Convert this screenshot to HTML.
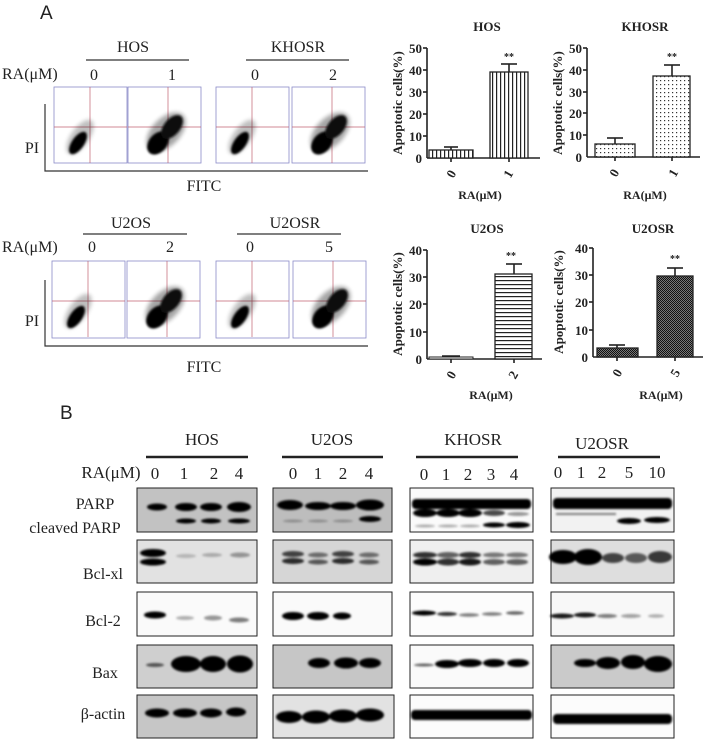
<!DOCTYPE html>
<html><head><meta charset="utf-8"><style>
body{margin:0;background:#fff}
svg{display:block}
.s{font-family:"Liberation Serif",serif;fill:#222}
.b{font-family:"Liberation Serif",serif;font-weight:bold;fill:#222}
.a{font-family:"Liberation Sans",sans-serif;fill:#222}
</style></head><body>
<svg width="703" height="743" viewBox="0 0 703 743" xmlns="http://www.w3.org/2000/svg">
<defs>
<filter id="bl" x="-30%" y="-60%" width="160%" height="220%"><feGaussianBlur stdDeviation="1.1"/></filter>
<filter id="bl2" x="-30%" y="-30%" width="160%" height="160%"><feGaussianBlur stdDeviation="2"/></filter>
<pattern id="pv" width="4" height="4" patternUnits="userSpaceOnUse"><rect width="4" height="4" fill="#fff"/><rect width="1.2" height="4" fill="#222"/></pattern>
<pattern id="ph" width="4" height="4" patternUnits="userSpaceOnUse"><rect width="4" height="4" fill="#fff"/><rect width="4" height="1.2" fill="#222"/></pattern>
<pattern id="pd" width="4" height="4" patternUnits="userSpaceOnUse"><rect width="4" height="4" fill="#fff"/><rect width="1.2" height="1.2" fill="#333"/></pattern>
<pattern id="pc" width="2" height="2" patternUnits="userSpaceOnUse"><rect width="2" height="2" fill="#777"/><rect width="1" height="1" fill="#111"/><rect x="1" y="1" width="1" height="1" fill="#111"/></pattern>
<g id="ctl">
<g stroke="#c06070" stroke-width="0.7"><line x1="36" y1="0" x2="36" y2="76"/><line x1="0" y1="40" x2="73" y2="40"/></g>
<ellipse cx="24" cy="56" rx="6" ry="13" transform="rotate(35 24 56)" fill="#000" filter="url(#bl)"/>
<ellipse cx="26" cy="50" rx="9" ry="20" transform="rotate(35 26 50)" fill="#000" opacity="0.25" filter="url(#bl2)"/>
</g>
<g id="trt">
<g stroke="#c06070" stroke-width="0.7"><line x1="40" y1="0" x2="40" y2="76"/><line x1="0" y1="40" x2="73" y2="40"/></g>
<ellipse cx="38" cy="45" rx="14" ry="24" transform="rotate(45 38 45)" fill="#000" opacity="0.35" filter="url(#bl2)"/>
<ellipse cx="30" cy="56" rx="9" ry="13" transform="rotate(40 30 56)" fill="#000" filter="url(#bl)"/>
<ellipse cx="44" cy="40" rx="8" ry="14" transform="rotate(40 44 40)" fill="#111" filter="url(#bl)"/>
</g>
</defs>
<rect width="703" height="743" fill="#fff"/>

<text x="40" y="19" class="a" font-size="19">A</text>
<g class="s" font-size="16" text-anchor="middle">
<text x="133" y="52">HOS</text><text x="298" y="52">KHOSR</text>
<text x="94" y="80">0</text><text x="172" y="80">1</text><text x="255" y="80">0</text><text x="333" y="80">2</text>
<text x="131" y="228">U2OS</text><text x="295" y="228">U2OSR</text>
<text x="92" y="252">0</text><text x="170" y="252">2</text><text x="250" y="252">0</text><text x="329" y="252">5</text>
<text x="204" y="191">FITC</text><text x="204" y="372">FITC</text>
<text x="32" y="153">PI</text><text x="32" y="326">PI</text>
</g>
<g class="s" font-size="16"><text x="2" y="79">RA(μM)</text><text x="2" y="252">RA(μM)</text></g>
<g stroke="#333" stroke-width="1.2">
<line x1="86" y1="60" x2="189" y2="60"/><line x1="246" y1="60" x2="349" y2="60"/>
<line x1="83" y1="234" x2="187" y2="234"/><line x1="237" y1="234" x2="341" y2="234"/>
<polyline points="45,104 45,171 368,171" fill="none"/>
<polyline points="45,280 45,346 368,346" fill="none"/>
</g>
<g fill="#fff" stroke="#8a8ac8" stroke-width="0.8">
<rect x="54" y="87" width="73" height="76"/><rect x="128" y="87" width="73" height="76"/>
<rect x="216" y="87" width="73" height="76"/><rect x="292" y="87" width="73" height="76"/>
<rect x="52" y="261" width="73" height="77"/><rect x="127" y="261" width="73" height="77"/>
<rect x="216" y="261" width="73" height="77"/><rect x="293" y="261" width="73" height="77"/>
</g>
<use href="#ctl" x="54" y="87"/><use href="#trt" x="128" y="87"/>
<use href="#ctl" x="216" y="87"/><use href="#trt" x="292" y="87"/>
<use href="#ctl" x="52" y="261"/><use href="#trt" x="127" y="261"/>
<use href="#ctl" x="216" y="261"/><use href="#trt" x="293" y="261"/>

<g class="b" font-size="13" text-anchor="middle">
<text x="487" y="31">HOS</text><text x="645" y="31">KHOSR</text>
<text x="487" y="233">U2OS</text><text x="653" y="233">U2OSR</text>
<text x="480" y="199" font-size="12">RA(μM)</text><text x="645" y="199" font-size="12">RA(μM)</text>
<text x="491" y="399" font-size="12">RA(μM)</text><text x="661" y="399" font-size="12">RA(μM)</text>
<text transform="translate(402,103) rotate(-90)">Apoptotic cells(%)</text>
<text transform="translate(562,103) rotate(-90)">Apoptotic cells(%)</text>
<text transform="translate(402,304) rotate(-90)">Apoptotic cells(%)</text>
<text transform="translate(563,302) rotate(-90)">Apoptotic cells(%)</text>
</g>
<!-- HOS -->
<g stroke="#222" stroke-width="1.6" fill="none">
<line x1="427" y1="48" x2="427" y2="158"/><line x1="427" y1="158" x2="540" y2="158"/>
<line x1="423" y1="48" x2="427" y2="48"/><line x1="423" y1="70" x2="427" y2="70"/><line x1="423" y1="92" x2="427" y2="92"/><line x1="423" y1="114" x2="427" y2="114"/><line x1="423" y1="136" x2="427" y2="136"/>
<line x1="451" y1="158" x2="451" y2="162"/><line x1="509" y1="158" x2="509" y2="162"/>
<line x1="451" y1="150" x2="451" y2="147"/><line x1="444" y1="147" x2="458" y2="147"/>
<line x1="509" y1="72" x2="509" y2="64"/><line x1="501" y1="64" x2="517" y2="64"/>
</g>
<rect x="429" y="150" width="44" height="8" fill="url(#pv)" stroke="#222" stroke-width="1.3"/>
<rect x="490" y="72" width="38" height="86" fill="url(#pv)" stroke="#222" stroke-width="1.3"/>
<g class="b" font-size="13" text-anchor="end"><text x="422" y="53">50</text><text x="422" y="75">40</text><text x="422" y="97">30</text><text x="422" y="119">20</text><text x="422" y="141">10</text><text x="422" y="163">0</text></g>
<text x="509" y="60" class="b" font-size="10" text-anchor="middle">**</text>
<text transform="translate(455,176) rotate(-60)" class="b" font-size="13" text-anchor="middle">0</text>
<text transform="translate(512,176) rotate(-60)" class="b" font-size="13" text-anchor="middle">1</text>
<!-- KHOSR -->
<g stroke="#222" stroke-width="1.6" fill="none">
<line x1="587" y1="48" x2="587" y2="157"/><line x1="587" y1="157" x2="700" y2="157"/>
<line x1="583" y1="48" x2="587" y2="48"/><line x1="583" y1="70" x2="587" y2="70"/><line x1="583" y1="92" x2="587" y2="92"/><line x1="583" y1="113" x2="587" y2="113"/><line x1="583" y1="135" x2="587" y2="135"/>
<line x1="615" y1="157" x2="615" y2="161"/><line x1="672" y1="157" x2="672" y2="161"/>
<line x1="615" y1="144" x2="615" y2="138"/><line x1="607" y1="138" x2="623" y2="138"/>
<line x1="672" y1="76" x2="672" y2="65"/><line x1="664" y1="65" x2="680" y2="65"/>
</g>
<rect x="595" y="144" width="40" height="13" fill="url(#pd)" stroke="#222" stroke-width="1.3"/>
<rect x="653" y="76" width="37" height="81" fill="url(#pd)" stroke="#222" stroke-width="1.3"/>
<g class="b" font-size="13" text-anchor="end"><text x="582" y="53">50</text><text x="582" y="75">40</text><text x="582" y="97">30</text><text x="582" y="118">20</text><text x="582" y="140">10</text><text x="582" y="162">0</text></g>
<text x="672" y="60" class="b" font-size="10" text-anchor="middle">**</text>
<text transform="translate(618,175) rotate(-60)" class="b" font-size="13" text-anchor="middle">0</text>
<text transform="translate(677,175) rotate(-60)" class="b" font-size="13" text-anchor="middle">1</text>
<!-- U2OS -->
<g stroke="#222" stroke-width="1.6" fill="none">
<line x1="427" y1="250" x2="427" y2="359"/><line x1="427" y1="359" x2="542" y2="359"/>
<line x1="423" y1="250" x2="427" y2="250"/><line x1="423" y1="277" x2="427" y2="277"/><line x1="423" y1="304" x2="427" y2="304"/><line x1="423" y1="332" x2="427" y2="332"/>
<line x1="451" y1="359" x2="451" y2="363"/><line x1="514" y1="359" x2="514" y2="363"/>
<line x1="442" y1="356" x2="460" y2="356"/>
<line x1="514" y1="274" x2="514" y2="264"/><line x1="506" y1="264" x2="522" y2="264"/>
</g>
<rect x="429" y="357" width="44" height="2" fill="#fff" stroke="#222"/>
<rect x="495" y="274" width="37" height="85" fill="url(#ph)" stroke="#222" stroke-width="1.3"/>
<g class="b" font-size="13" text-anchor="end"><text x="422" y="255">40</text><text x="422" y="282">30</text><text x="422" y="309">20</text><text x="422" y="337">10</text><text x="422" y="364">0</text></g>
<text x="511" y="259" class="b" font-size="10" text-anchor="middle">**</text>
<text transform="translate(455,377) rotate(-60)" class="b" font-size="13" text-anchor="middle">0</text>
<text transform="translate(517,377) rotate(-60)" class="b" font-size="13" text-anchor="middle">2</text>
<!-- U2OSR -->
<g stroke="#222" stroke-width="1.6" fill="none">
<line x1="593" y1="248" x2="593" y2="357"/><line x1="593" y1="357" x2="703" y2="357"/>
<line x1="589" y1="248" x2="593" y2="248"/><line x1="589" y1="275" x2="593" y2="275"/><line x1="589" y1="302" x2="593" y2="302"/><line x1="589" y1="330" x2="593" y2="330"/>
<line x1="617" y1="357" x2="617" y2="361"/><line x1="675" y1="357" x2="675" y2="361"/>
<line x1="617" y1="348" x2="617" y2="345"/><line x1="609" y1="345" x2="625" y2="345"/>
<line x1="675" y1="276" x2="675" y2="268"/><line x1="667" y1="268" x2="683" y2="268"/>
</g>
<rect x="597" y="348" width="41" height="9" fill="url(#pc)" stroke="#222" stroke-width="1.3"/>
<rect x="657" y="276" width="36" height="81" fill="url(#pc)" stroke="#222" stroke-width="1.3"/>
<g class="b" font-size="13" text-anchor="end"><text x="588" y="253">40</text><text x="588" y="280">30</text><text x="588" y="307">20</text><text x="588" y="335">10</text><text x="588" y="362">0</text></g>
<text x="675" y="262" class="b" font-size="10" text-anchor="middle">**</text>
<text transform="translate(621,375) rotate(-60)" class="b" font-size="13" text-anchor="middle">0</text>
<text transform="translate(679,375) rotate(-60)" class="b" font-size="13" text-anchor="middle">5</text>

<text x="60" y="419" class="a" font-size="19">B</text>
<g class="s" font-size="17" text-anchor="middle">
<text x="202" y="445">HOS</text><text x="332" y="445">U2OS</text><text x="473" y="445">KHOSR</text><text x="602" y="449">U2OSR</text>
</g>
<g stroke="#222" stroke-width="2.5">
<line x1="146" y1="457" x2="248" y2="457"/><line x1="282" y1="457" x2="383" y2="457"/>
<line x1="416" y1="457" x2="518" y2="457"/><line x1="558" y1="457" x2="660" y2="457"/>
</g>
<g class="s" font-size="17" text-anchor="middle">
<text x="111" y="478">RA(μM)</text>
<text x="155" y="479">0</text><text x="184" y="479">1</text><text x="214" y="479">2</text><text x="239" y="479">4</text>
<text x="293" y="479">0</text><text x="318" y="479">1</text><text x="343" y="479">2</text><text x="369" y="479">4</text>
<text x="424" y="480">0</text><text x="446" y="480">1</text><text x="468" y="480">2</text><text x="491" y="480">3</text><text x="514" y="480">4</text>
<text x="558" y="478">0</text><text x="581" y="478">1</text><text x="602" y="478">2</text><text x="629" y="478">5</text><text x="657" y="478">10</text>
</g>
<g class="s" font-size="16" text-anchor="middle">
<text x="95" y="509">PARP</text><text x="75" y="533">cleaved PARP</text>
<text x="103" y="579">Bcl-xl</text><text x="103" y="626">Bcl-2</text><text x="105" y="678">Bax</text><text x="103" y="719">β-actin</text>
</g>
<g stroke="#222" stroke-width="1">
<rect x="137" y="488" width="120" height="44" fill="#c2c2c2"/><rect x="273" y="488" width="119" height="44" fill="#bdbdbd"/><rect x="410" y="488" width="123" height="44" fill="#fafafa"/><rect x="551" y="488" width="123" height="44" fill="#f2f2f2"/>
<rect x="137" y="540" width="120" height="43" fill="#e2e2e2"/><rect x="273" y="540" width="119" height="43" fill="#d6d6d6"/><rect x="410" y="540" width="123" height="43" fill="#efefef"/><rect x="551" y="540" width="123" height="43" fill="#dedede"/>
<rect x="137" y="592" width="120" height="44" fill="#fafafa"/><rect x="273" y="592" width="119" height="44" fill="#fafafa"/><rect x="410" y="592" width="123" height="44" fill="#fcfcfc"/><rect x="551" y="592" width="123" height="44" fill="#f8f8f8"/>
<rect x="137" y="645" width="120" height="43" fill="#cfcfcf"/><rect x="273" y="645" width="119" height="43" fill="#c6c6c6"/><rect x="410" y="645" width="123" height="43" fill="#fafafa"/><rect x="551" y="645" width="123" height="43" fill="#cacaca"/>
<rect x="137" y="695" width="120" height="43" fill="#c6c6c6"/><rect x="273" y="695" width="121" height="43" fill="#e2e2e2"/><rect x="410" y="695" width="123" height="43" fill="#fcfcfc"/><rect x="551" y="695" width="123" height="43" fill="#fcfcfc"/>
</g>
<g fill="#000" filter="url(#bl)">
<ellipse cx="157" cy="507" rx="10" ry="3.5"/><ellipse cx="186" cy="507" rx="11" ry="4"/><ellipse cx="211" cy="507" rx="11" ry="4"/><ellipse cx="239" cy="507" rx="12" ry="5"/>
<ellipse cx="186" cy="521" rx="10" ry="2.5"/><ellipse cx="211" cy="521" rx="10" ry="2.5"/><ellipse cx="239" cy="521" rx="11" ry="2.5"/>
<ellipse cx="290" cy="505" rx="13" ry="5"/><ellipse cx="318" cy="506" rx="13" ry="4"/><ellipse cx="343" cy="506" rx="13" ry="4"/><ellipse cx="370" cy="505" rx="14" ry="5.5"/>
<ellipse cx="370" cy="519" rx="11" ry="3"/>
<ellipse cx="318" cy="521" rx="10" ry="1.5" opacity="0.25"/><ellipse cx="343" cy="521" rx="10" ry="1.5" opacity="0.25"/><ellipse cx="293" cy="521" rx="10" ry="1.5" opacity="0.25"/>
<rect x="412" y="499" width="119" height="10" rx="4"/>
<ellipse cx="425" cy="513" rx="12" ry="4"/><ellipse cx="448" cy="513" rx="12" ry="4"/><ellipse cx="470" cy="513" rx="12" ry="4"/><ellipse cx="494" cy="513" rx="11" ry="3" opacity="0.7"/><ellipse cx="518" cy="514" rx="11" ry="2" opacity="0.4"/>
<ellipse cx="494" cy="525" rx="11" ry="2.5"/><ellipse cx="518" cy="525" rx="12" ry="3"/>
<ellipse cx="425" cy="526" rx="10" ry="1.5" opacity="0.3"/><ellipse cx="448" cy="526" rx="10" ry="1.5" opacity="0.3"/><ellipse cx="470" cy="526" rx="10" ry="1.5" opacity="0.3"/>
<rect x="553" y="498" width="119" height="11" rx="4"/>
<rect x="556" y="513" width="60" height="2" opacity="0.5"/>
<ellipse cx="629" cy="521" rx="12" ry="3"/><ellipse cx="657" cy="520" rx="13" ry="3"/>
<ellipse cx="153" cy="553" rx="13" ry="4"/><ellipse cx="153" cy="562" rx="13" ry="3.5"/>
<ellipse cx="186" cy="556" rx="10" ry="2" opacity="0.2"/><ellipse cx="212" cy="555" rx="10" ry="2" opacity="0.25"/><ellipse cx="240" cy="555" rx="10" ry="2.5" opacity="0.35"/>
<ellipse cx="293" cy="554" rx="11" ry="3" opacity="0.7"/><ellipse cx="293" cy="561" rx="11" ry="3" opacity="0.8"/>
<ellipse cx="318" cy="555" rx="10" ry="2.5" opacity="0.5"/><ellipse cx="318" cy="562" rx="10" ry="2.5" opacity="0.6"/>
<ellipse cx="343" cy="554" rx="11" ry="3" opacity="0.7"/><ellipse cx="343" cy="561" rx="11" ry="3" opacity="0.8"/>
<ellipse cx="369" cy="555" rx="10" ry="2.5" opacity="0.5"/><ellipse cx="369" cy="562" rx="10" ry="2.5" opacity="0.6"/>
<ellipse cx="425" cy="555" rx="12" ry="3" opacity="0.8"/><ellipse cx="425" cy="562" rx="12" ry="3.5"/>
<ellipse cx="448" cy="555" rx="11" ry="3" opacity="0.6"/><ellipse cx="448" cy="562" rx="11" ry="3.5" opacity="0.8"/>
<ellipse cx="470" cy="555" rx="11" ry="3" opacity="0.8"/><ellipse cx="470" cy="562" rx="11" ry="3.5" opacity="0.9"/>
<ellipse cx="494" cy="555" rx="11" ry="2.5" opacity="0.5"/><ellipse cx="494" cy="562" rx="11" ry="3" opacity="0.6"/>
<ellipse cx="517" cy="555" rx="11" ry="2.5" opacity="0.5"/><ellipse cx="517" cy="562" rx="11" ry="3" opacity="0.6"/>
<ellipse cx="563" cy="557" rx="14" ry="7"/><ellipse cx="588" cy="557" rx="14" ry="8"/>
<ellipse cx="613" cy="558" rx="11" ry="5" opacity="0.7"/><ellipse cx="636" cy="558" rx="11" ry="5" opacity="0.6"/><ellipse cx="660" cy="557" rx="12" ry="6" opacity="0.75"/>
<ellipse cx="155" cy="615" rx="11" ry="3.5"/><ellipse cx="185" cy="618" rx="9" ry="2" opacity="0.3"/><ellipse cx="213" cy="618" rx="9" ry="2.5" opacity="0.4"/><ellipse cx="239" cy="620" rx="10" ry="2.5" opacity="0.5"/>
<ellipse cx="293" cy="616" rx="11" ry="4"/><ellipse cx="318" cy="616" rx="11" ry="4"/><ellipse cx="342" cy="616" rx="9" ry="3.5"/>
<ellipse cx="424" cy="613" rx="12" ry="2.5"/><ellipse cx="447" cy="614" rx="10" ry="2" opacity="0.8"/><ellipse cx="469" cy="615" rx="10" ry="1.8" opacity="0.5"/><ellipse cx="492" cy="614" rx="10" ry="1.8" opacity="0.5"/><ellipse cx="515" cy="613" rx="9" ry="1.8" opacity="0.6"/>
<ellipse cx="562" cy="616" rx="12" ry="2.5" opacity="0.9"/><ellipse cx="585" cy="615" rx="11" ry="2.5" opacity="0.9"/><ellipse cx="607" cy="616" rx="10" ry="2" opacity="0.5"/><ellipse cx="631" cy="616" rx="10" ry="2" opacity="0.35"/><ellipse cx="656" cy="616" rx="8" ry="1.8" opacity="0.3"/>
<ellipse cx="155" cy="665" rx="9" ry="2" opacity="0.6"/><ellipse cx="186" cy="664" rx="15" ry="8"/><ellipse cx="213" cy="664" rx="13" ry="8"/><ellipse cx="240" cy="664" rx="13" ry="8.5"/>
<ellipse cx="319" cy="663" rx="11" ry="5"/><ellipse cx="346" cy="663" rx="12" ry="5.5"/><ellipse cx="370" cy="663" rx="11" ry="5"/>
<ellipse cx="424" cy="665" rx="10" ry="1.5" opacity="0.6"/><ellipse cx="447" cy="664" rx="12" ry="4"/><ellipse cx="470" cy="663" rx="12" ry="4"/><ellipse cx="494" cy="663" rx="11" ry="4"/><ellipse cx="518" cy="663" rx="11" ry="4"/>
<ellipse cx="585" cy="663" rx="11" ry="4"/><ellipse cx="608" cy="663" rx="12" ry="6"/><ellipse cx="633" cy="662" rx="12" ry="7"/><ellipse cx="658" cy="664" rx="14" ry="8"/>
<ellipse cx="157" cy="713" rx="12" ry="4.5"/><ellipse cx="185" cy="713" rx="12" ry="4.5"/><ellipse cx="211" cy="713" rx="11" ry="4.5"/><ellipse cx="236" cy="712" rx="10" ry="4.5"/>
<ellipse cx="289" cy="717" rx="13" ry="6"/><ellipse cx="316" cy="717" rx="14" ry="6.5"/><ellipse cx="343" cy="716" rx="14" ry="6.5"/><ellipse cx="370" cy="715" rx="14" ry="6.5"/>
<rect x="411" y="710" width="121" height="10" rx="4"/>
<rect x="553" y="714" width="119" height="10" rx="4"/>
</g>
</svg>
</body></html>
